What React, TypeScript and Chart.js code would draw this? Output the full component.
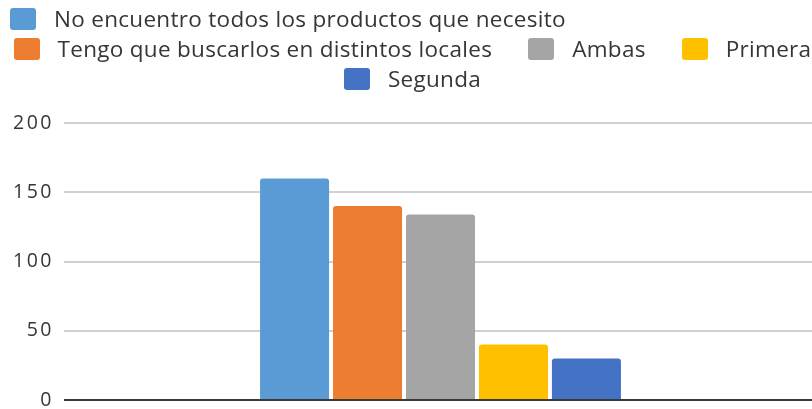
import React, { useEffect, useRef } from 'react';
import { Chart, registerables } from 'chart.js';

Chart.register(...registerables);

const categories = [''];
const seriesLabels = [
  'No encuentro todos los productos que necesito',
  'Tengo que buscarlos en distintos locales',
  'Ambas',
  'Primera',
  'Segunda',
];
const seriesValues = [160, 140, 134, 40, 30];
const seriesColors = ['#5B9BD5', '#ED7D31', '#A5A5A5', '#FFC000', '#4472C4'];
const yTicks = [0, 50, 100, 150, 200];
const legendRows = [[0], [1, 2, 3], [4]];

const FONT = "'Open Sans', sans-serif";
const TEXT = '#363636';

const tickSpacing = {
  id: 'tickSpacing',
  beforeDraw(chart: any) {
    chart.ctx.letterSpacing = '2.5px';
  },
  beforeDatasetsDraw(chart: any) {
    chart.ctx.letterSpacing = '0px';
  },
};

function LegendItem({ i }: { i: number }) {
  return (
    <div style={{ display: 'flex', alignItems: 'center', height: 22 }}>
      <div
        style={{
          width: 26,
          height: 22,
          borderRadius: 3,
          background: seriesColors[i],
          marginRight: 18,
          flex: '0 0 auto',
        }}
      />
      <span
        style={{
          fontFamily: FONT,
          fontSize: 22.5,
          letterSpacing: '0.3px',
          color: TEXT,
          whiteSpace: 'nowrap',
          lineHeight: '22px',
        }}
      >
        {seriesLabels[i]}
      </span>
    </div>
  );
}

export default function App() {
  const canvasRef = useRef<HTMLCanvasElement>(null);

  useEffect(() => {
    if (!canvasRef.current) return;
    const chart = new Chart(canvasRef.current, {
      type: 'bar',
      data: {
        labels: categories,
        datasets: seriesLabels.map((label, i) => ({
          label,
          data: [seriesValues[i]],
          backgroundColor: seriesColors[i],
          borderRadius: 3,
          borderSkipped: 'start' as const,
          categoryPercentage: 0.4845,
          barPercentage: 0.946,
        })),
      },
      options: {
        animation: false,
        responsive: false,
        maintainAspectRatio: false,
        layout: { padding: { top: 123, bottom: 30, right: 13, left: 0 } },
        plugins: { legend: { display: false }, tooltip: { enabled: false } },
        scales: {
          x: { display: false },
          y: {
            min: 0,
            max: 200,
            afterBuildTicks: (scale: any) => {
              scale.ticks = yTicks.map((v) => ({ value: v }));
            },
            afterFit: (scale: any) => {
              scale.width = 64;
            },
            border: { display: false },
            grid: {
              drawTicks: false,
              lineWidth: 2,
              color: (ctx: any) => (ctx.tick && ctx.tick.value === 0 ? '#3a3a3a' : '#d0d0d0'),
            },
            ticks: {
              padding: 10,
              color: TEXT,
              font: { family: FONT, size: 19.5 },
            },
          },
        },
      },
      plugins: [tickSpacing],
    });
    return () => chart.destroy();
  }, []);

  return (
    <div style={{ position: 'fixed', left: 0, top: 0, width: 812, height: 409, overflow: 'hidden', background: '#fff' }}>
      <canvas ref={canvasRef} width={830} height={430} style={{ position: 'absolute', left: 0, top: 0 }} />
      {legendRows.map((row, r) => (
        <div
          key={r}
          style={{
            position: 'absolute',
            top: 8 + r * 30,
            left: r === 0 ? 10 : 0,
            width: r === 0 ? 'auto' : 825,
            display: 'flex',
            justifyContent: r === 0 ? 'flex-start' : 'center',
            gap: 36,
          }}
        >
          {row.map((i) => (
            <LegendItem key={i} i={i} />
          ))}
        </div>
      ))}
    </div>
  );
}
